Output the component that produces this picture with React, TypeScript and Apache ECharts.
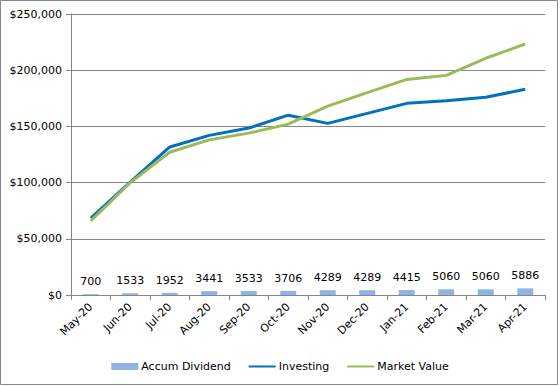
import React, { useEffect, useRef } from "react";
import * as echarts from "echarts";

const categories = ["May-20", "Jun-20", "Jul-20", "Aug-20", "Sep-20", "Oct-20", "Nov-20", "Dec-20", "Jan-21", "Feb-21", "Mar-21", "Apr-21"];
const accumDividend = [700, 1533, 1952, 3441, 3533, 3706, 4289, 4289, 4415, 5060, 5060, 5886];
const investing = [68500, 100500, 131700, 142000, 148500, 160000, 152700, 161600, 170500, 172900, 175900, 183000];
const marketValue = [66000, 100000, 127000, 138000, 144000, 152000, 168000, 180000, 191800, 195400, 210600, 223300];

const FONT = "DejaVu Sans";

export default function App() {
  const ref = useRef<HTMLDivElement>(null);
  useEffect(() => {
    if (!ref.current) return;
    const chart = echarts.init(ref.current, null, { renderer: "svg" });
    chart.setOption({
      animation: false,
      backgroundColor: "#ffffff",
      textStyle: { fontFamily: FONT, color: "#000" },
      graphic: [
        {
          type: "rect",
          shape: { x: 0.5, y: 0.5, width: 557, height: 384 },
          style: { fill: "none", stroke: "#868686", lineWidth: 1 },
          silent: true,
        },
      ],
      grid: { left: 71, right: 15, top: 14, bottom: 91 },
      legend: {
        bottom: 9,
        left: "center",
        itemWidth: 27,
        itemHeight: 7,
        itemGap: 17,
        textStyle: { fontFamily: FONT, fontSize: 11, color: "#000", padding: [0, 0, 0, -2] },
        data: [
          { name: "Accum Dividend", icon: "rect" },
          { name: "Investing", itemStyle: { opacity: 0 } },
          { name: "Market Value", itemStyle: { opacity: 0 } },
        ],
      },
      xAxis: {
        type: "category",
        data: categories,
        boundaryGap: true,
        axisLine: { lineStyle: { color: "#868686", width: 1 } },
        axisTick: { show: true, length: 5, lineStyle: { color: "#868686" } },
        axisLabel: { rotate: 45, fontFamily: FONT, fontSize: 11, color: "#000", margin: 10, interval: 0 },
      },
      yAxis: {
        type: "value",
        min: 0,
        max: 250000,
        interval: 50000,
        axisLine: { show: true, lineStyle: { color: "#868686", width: 1 } },
        axisTick: { show: true, length: 5, lineStyle: { color: "#868686" } },
        splitLine: { lineStyle: { color: "#868686", width: 1 } },
        axisLabel: {
          fontFamily: FONT,
          fontSize: 11,
          color: "#000",
          margin: 9,
          formatter: (v: number) => "$" + v.toLocaleString("en-US"),
        },
      },
      series: [
        {
          name: "Accum Dividend",
          type: "bar",
          data: accumDividend,
          barWidth: 16,
          itemStyle: { color: "#8EB4E3" },
          label: {
            show: true,
            position: "top",
            distance: 7,
            fontFamily: FONT,
            fontSize: 11,
            color: "#000",
          },
        },
        {
          name: "Investing",
          type: "line",
          data: investing,
          symbol: "none",
          lineStyle: { color: "#0070C0", width: 3 },
          itemStyle: { color: "#0070C0" },
        },
        {
          name: "Market Value",
          type: "line",
          data: marketValue,
          symbol: "none",
          lineStyle: { color: "#9BBB59", width: 3 },
          itemStyle: { color: "#9BBB59" },
        },
      ],
    });
    return () => chart.dispose();
  }, []);
  return (
    <div
      ref={ref}
      style={{ position: "absolute", left: 0, top: 0, width: 560, height: 386 }}
    />
  );
}
